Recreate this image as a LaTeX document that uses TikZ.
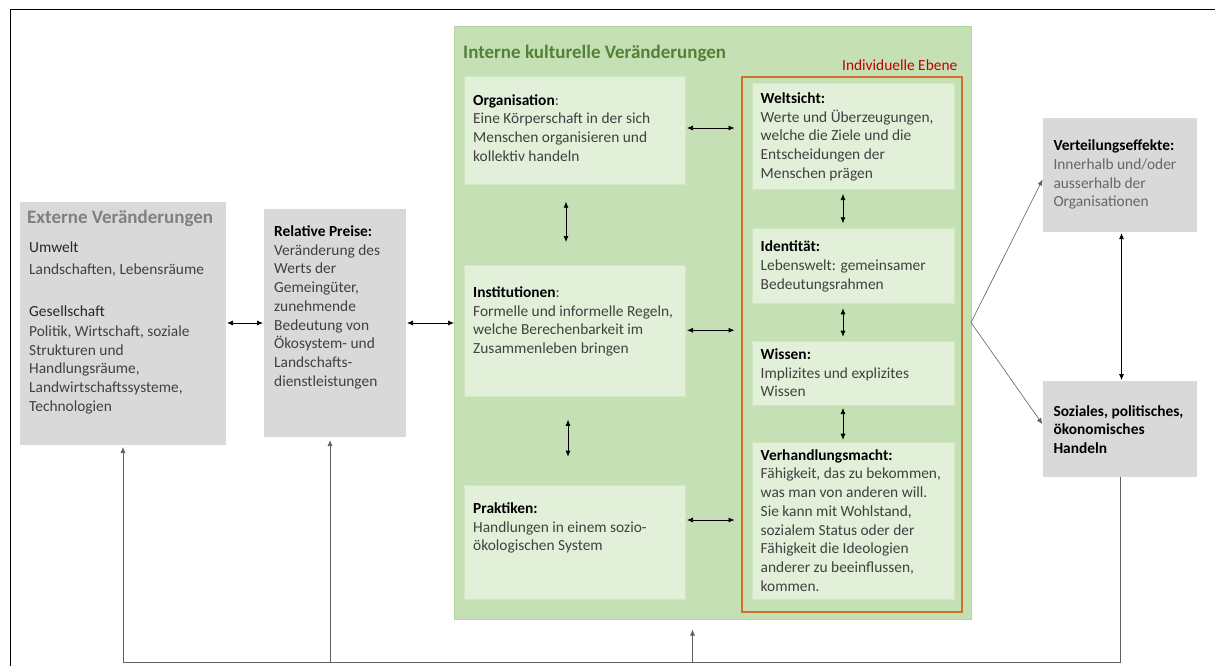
\documentclass[tikz,border=0pt]{standalone}
\usepackage{fontspec}
\setmainfont{Carlito}
\usetikzlibrary{arrows.meta}
\definecolor{boxgray}{HTML}{D9D9D9}
\definecolor{biggreen}{HTML}{C5E0B4}
\definecolor{biggreenline}{HTML}{B5D5A0}
\definecolor{innergreen}{HTML}{E2F0D9}
\definecolor{innerline}{HTML}{D0E8C0}
\definecolor{orangeline}{HTML}{D0702A}
\definecolor{redlabel}{HTML}{C00000}
\definecolor{titlegreen}{HTML}{538135}
\definecolor{titlegray}{HTML}{808080}
\definecolor{bodytext}{HTML}{404040}
\definecolor{fbline}{HTML}{606060}
\begin{document}
\begin{tikzpicture}[x=1pt,y=-1pt,
  gbox/.style={fill=boxgray,draw=none,anchor=north west,inner sep=0pt,outer sep=0pt},
  ibox/.style={fill=innergreen,draw=innerline,line width=0.6pt,anchor=north west,inner sep=0pt,outer sep=0pt},
  txt/.style={anchor=north west,yshift=12pt,align=left,inner sep=0pt,text=bodytext,
    font=\fontsize{15.4}{18.7}\selectfont,execute at begin node={\rule{0pt}{12pt}}},
  arr/.style={{Latex[length=6pt,width=5pt]}-{Latex[length=6pt,width=5pt]},line width=0.7pt,black},
  one/.style={-{Latex[length=6pt,width=5pt]},line width=0.7pt,fbline},
  fork/.style={-{Latex[length=6pt,width=5pt]},line width=0.6pt,fbline}
]
\useasboundingbox (0,0) rectangle (1215,666);
\fill[white] (0,0) rectangle (1215,666);
\draw[line width=1pt,black] (10,666) -- (10,10) -- (1215,10);

% boxes
\node[gbox,minimum width=206,minimum height=243] (ext) at (20,201.5) {};
\node[gbox,minimum width=142,minimum height=228] (rel) at (264,209) {};
\node[fill=biggreen,draw=biggreenline,line width=0.6pt,anchor=north west,inner sep=0pt,outer sep=0pt,minimum width=517,minimum height=593] (green) at (454,26) {};
\node[draw=orangeline,line width=1.2pt,anchor=north west,inner sep=0pt,outer sep=0pt,minimum width=220,minimum height=535] (indiv) at (742,77) {};
\node[ibox,minimum width=221,minimum height=108] (org) at (464,76) {};
\node[ibox,minimum width=221,minimum height=131.5] (inst) at (464,265) {};
\node[ibox,minimum width=221,minimum height=114] (prak) at (464,485) {};
\node[ibox,minimum width=202,minimum height=106] (welt) at (752,83) {};
\node[ibox,minimum width=202,minimum height=75] (ident) at (752,228.3) {};
\node[ibox,minimum width=202,minimum height=63.3] (wiss) at (752,341.7) {};
\node[ibox,minimum width=202,minimum height=156.3] (verh) at (752,442.7) {};
\node[gbox,minimum width=153.4,minimum height=114] (vert) at (1043.3,117.7) {};
\node[gbox,minimum width=153.4,minimum height=95.7] (soz) at (1043.3,381) {};

% texts
\node[anchor=base west,inner sep=0pt,text=titlegray,font=\fontsize{19}{22}\selectfont\bfseries] (tExt) at (27,223.5) {Externe Veränderungen};
\node[txt,text=black!85] (tUm) at (29,252.5) {Umwelt};
\node[txt] (tUmB) at (29,274.5) {Landschaften, Lebensräume};
\node[txt,text=black!85] (tGes) at (29,316.5) {Gesellschaft};
\node[txt] (tGesB) at (29,337.5) {Politik, Wirtschaft, soziale\\Strukturen und\\Handlungsräume,\\Landwirtschaftssysteme,\\Technologien};

\node[txt] (tRel) at (274,237.5) {\textcolor{black}{\bfseries Relative Preise:}\\Veränderung des\\Werts der\\Gemeingüter,\\zunehmende\\Bedeutung von\\Ökosystem- und\\Landschafts-\\dienstleistungen};

\node[anchor=base west,inner sep=0pt,text=titlegreen,font=\fontsize{19}{22}\selectfont\bfseries] (tInt) at (463,58.5) {Interne kulturelle Veränderungen};
\node[anchor=base east,inner sep=0pt,text=redlabel,font=\fontsize{15.4}{18.7}\selectfont] (tInd) at (957.5,70.5) {Individuelle Ebene};

\node[txt] (tOrg) at (473,106.2) {\textcolor{black}{\bfseries Organisation}:\\Eine Körperschaft in der sich\\Menschen organisieren und\\kollektiv handeln};
\node[txt] (tInst) at (473,298.5) {\textcolor{black}{\bfseries Institutionen}:\\Formelle und informelle Regeln,\\welche Berechenbarkeit im\\Zusammenleben bringen};
\node[txt] (tPrak) at (473,514.5) {\textcolor{black}{\bfseries Praktiken:}\\Handlungen in einem sozio-\\ökologischen System};

\node[txt] (tWelt) at (760.5,104.5) {\textcolor{black}{\bfseries Weltsicht:}\\Werte und Überzeugungen,\\welche die Ziele und die\\Entscheidungen der\\Menschen prägen};
\node[txt] (tIdent) at (760.5,252.8) {\textcolor{black}{\bfseries Identität:}\\Lebenswelt: gemeinsamer\\Bedeutungsrahmen};
\node[txt] (tWiss) at (760.5,360.5) {\textcolor{black}{\bfseries Wissen:}\\Implizites und explizites\\Wissen};
\node[txt] (tVerh) at (760.5,461.2) {\textcolor{black}{\bfseries Verhandlungsmacht:}\\Fähigkeit, das zu bekommen,\\was man von anderen will.\\Sie kann mit Wohlstand,\\sozialem Status oder der\\Fähigkeit die Ideologien\\anderer zu beeinflussen,\\kommen.};

\node[txt,text=black!60] (tVert) at (1053.3,151.8) {\textcolor{black}{\bfseries Verteilungseffekte:}\\Innerhalb und/oder\\ausserhalb der\\Organisationen};
\node[txt,text=black] (tSoz) at (1053.3,417.2) {\bfseries Soziales, politisches,\\\bfseries ökonomisches\\\bfseries Handeln};

% arrows left
\draw[arr,shorten <=1pt,shorten >=1pt] (ext.east) -- (ext.east -| rel.west);
\draw[arr,shorten <=1pt] (rel.east) -- (rel.east -| green.west);
% horizontal arrows inside green
\draw[arr,shorten <=2pt,shorten >=7.5pt] ([yshift=2]org.east) -- ([yshift=2]org.east -| indiv.west);
\draw[arr,shorten <=2pt,shorten >=7.5pt] ([yshift=0.5]inst.east) -- ([yshift=0.5]inst.east -| indiv.west);
\draw[arr,shorten <=2pt,shorten >=7.5pt] ([yshift=22]prak.east) -- ([yshift=22]prak.east -| indiv.west);
% vertical arrows in left column
\draw[arr,shorten <=17.7pt,shorten >=23pt] ([xshift=-8.5]org.south) -- ([xshift=-8.5]org.south |- inst.north);
\draw[arr,shorten <=23.3pt,shorten >=28.3pt] ([xshift=-6.5]inst.south) -- ([xshift=-6.5]inst.south |- prak.north);
% vertical arrows in right column
\draw[arr,shorten <=5pt,shorten >=5pt] ([xshift=-10]welt.south) -- ([xshift=-10]welt.south |- ident.north);
\draw[arr,shorten <=5pt,shorten >=5pt] ([xshift=-10]ident.south) -- ([xshift=-10]ident.south |- wiss.north);
\draw[arr,shorten <=3pt,shorten >=3pt] ([xshift=-10]wiss.south) -- ([xshift=-10]wiss.south |- verh.north);
% fork to right
\coordinate (fk) at (green.east);
\draw[fork,shorten >=1.5pt] (fk) -- ([yshift=-3.5]vert.west);
\draw[fork,shorten >=1.5pt] (fk) -- ([yshift=3.5]soz.west);
\draw[arr,line width=0.6pt,shorten <=1.5pt,shorten >=1pt] ([xshift=1.5]vert.south) -- ([xshift=1.5]soz.north);
% feedback loop
\coordinate (fbR) at (soz.south |- 0,662.3);
\coordinate (fbL) at (ext.south |- 0,662.3);
\coordinate (fbM) at ([xshift=-5]rel.south |- 0,662.3);
\coordinate (fbG) at ([xshift=-20]green.south |- 0,662.3);
\draw[one,shorten >=2.5pt] (soz.south) -- (fbR) -- (fbL) -- (ext.south);
\draw[one,shorten >=3pt] (fbM) -- ([xshift=-5]rel.south);
\draw[one,shorten >=10.5pt] (fbG) -- ([xshift=-20]green.south);
\end{tikzpicture}
\end{document}
